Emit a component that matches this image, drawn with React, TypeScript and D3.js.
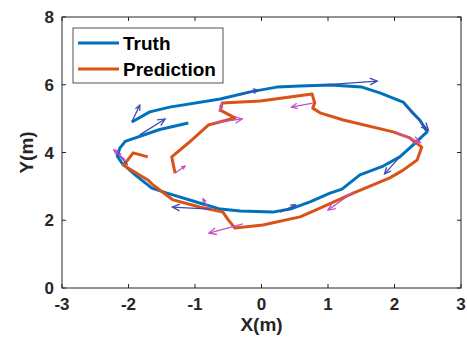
import React from "react";
import * as d3 from "d3";

// Trajectories in metres
const truthX = [-1.1, -1.53, -2.05, -2.13, -2.17, -2.1, -1.9, -1.65, -1.42, -0.93, -0.62, -0.32, 0.17, 0.43, 0.73, 1.03, 1.21, 1.48, 1.83, 2.08, 2.26, 2.49, 2.38, 2.26, 2.13, 1.78, 1.51, 1.03, 0.58, 0.23, -0.17, -0.62, -1.38, -1.68, -1.95];
const truthY = [4.87, 4.68, 4.33, 4.13, 3.9, 3.69, 3.34, 2.95, 2.8, 2.51, 2.33, 2.27, 2.24, 2.33, 2.54, 2.8, 2.92, 3.34, 3.6, 3.87, 4.19, 4.61, 4.96, 5.2, 5.49, 5.76, 5.93, 5.99, 5.96, 5.93, 5.79, 5.58, 5.34, 5.2, 4.9];

const predX = [-1.71, -1.93, -2.01, -2.08, -1.71, -1.63, -1.33, -0.93, -0.58, -0.5, -0.4, 0.02, 0.58, 0.88, 1.38, 1.93, 2.13, 2.34, 2.41, 2.23, 1.98, 1.23, 0.88, 0.77, 0.8, 0.76, 0.43, -0.02, -0.59, -0.62, -0.4, -0.8, -1.1, -1.35, -1.3];
const predY = [3.87, 3.99, 3.78, 3.63, 3.19, 3.04, 2.6, 2.39, 2.24, 2.01, 1.77, 1.86, 2.1, 2.36, 2.8, 3.25, 3.48, 3.78, 4.16, 4.43, 4.61, 4.96, 5.17, 5.31, 5.46, 5.73, 5.64, 5.52, 5.46, 5.25, 5.02, 4.81, 4.28, 3.87, 3.39];

// Heading arrows (base x, base y, u, v)
const truthArrowX = [-1.95, -1.83, -2.01, -0.77, 0.28, 2.08, 2.16, 0.88, -0.32];
const truthArrowY = [4.9, 4.52, 3.63, 2.33, 2.24, 3.87, 5.4, 5.99, 5.7];
const truthArrowU = [0.12, 0.38, -0.17, -0.57, 0.23, -0.23, 0.35, 0.86, 0.27];
const truthArrowV = [0.5, 0.47, 0.38, 0.06, 0.21, -0.5, -0.74, 0.12, 0.15];

const predArrowX = [-1.3, -2.05, -0.73, -0.64, 0.77, 2.01, 1.38, -0.28, -0.8];
const predArrowY = [3.39, 3.78, 4.87, 5.2, 5.46, 4.61, 2.83, 1.89, 2.36];
const predArrowU = [0.15, -0.17, 0.44, 0.05, -0.32, 0.38, -0.38, -0.51, -0.08];
const predArrowV = [0.21, 0.3, 0.12, 0.24, -0.12, -0.32, -0.53, -0.27, 0.27];

const xTicks = [-3, -2, -1, 0, 1, 2, 3];
const yTicks = [0, 2, 4, 6, 8];

const W = 467;
const H = 337;
const margin = { top: 17, right: 6, bottom: 49, left: 62 };
const axisColor = "#262626";
const font = "'Liberation Sans', Arial, Helvetica, sans-serif";

export default function App() {
  const x = d3.scaleLinear().domain([-3, 3]).range([margin.left, W - margin.right]);
  const y = d3.scaleLinear().domain([0, 8]).range([H - margin.bottom, margin.top]);

  const line = d3
    .line<[number, number]>()
    .x((d) => x(d[0]))
    .y((d) => y(d[1]));

  const truth = truthX.map((v, i) => [v, truthY[i]] as [number, number]);
  const pred = predX.map((v, i) => [v, predY[i]] as [number, number]);

  const arrows = (bx: number[], by: number[], u: number[], v: number[], color: string, key: string) =>
    bx.map((b, i) => {
      const x0 = x(b);
      const y0 = y(by[i]);
      const x1 = x(b + u[i]);
      const y1 = y(by[i] + v[i]);
      const len = Math.hypot(x1 - x0, y1 - y0);
      const ang = Math.atan2(y1 - y0, x1 - x0);
      const hl = Math.min(8, Math.max(4, len * 0.3));
      const a = (25 * Math.PI) / 180;
      const p1 = [x1 - hl * Math.cos(ang - a), y1 - hl * Math.sin(ang - a)];
      const p2 = [x1 - hl * Math.cos(ang + a), y1 - hl * Math.sin(ang + a)];
      return (
        <g key={key + i} stroke={color} strokeWidth={1.3} fill="none">
          <line x1={x0} y1={y0} x2={x1} y2={y1} />
          <polyline points={`${p1[0]},${p1[1]} ${x1},${y1} ${p2[0]},${p2[1]}`} />
        </g>
      );
    });

  const x0 = margin.left;
  const x1 = W - margin.right;
  const y0 = H - margin.bottom;
  const y1 = margin.top;
  const tick = 4;

  return (
    <>
      <style>{"body{margin:0}"}</style>
      <svg width={W} height={H} style={{ display: "block", background: "#fff" }} fontFamily={font}>
        <path d={line(truth) || ""} fill="none" stroke="#0072BD" strokeWidth={3} strokeLinejoin="round" />
        <path d={line(pred) || ""} fill="none" stroke="#D95319" strokeWidth={3} strokeLinejoin="round" />
        {arrows(truthArrowX, truthArrowY, truthArrowU, truthArrowV, "#3b4cae", "t")}
        {arrows(predArrowX, predArrowY, predArrowU, predArrowV, "#c84fc0", "p")}

        {/* axes box */}
        <rect x={x0} y={y1} width={x1 - x0} height={y0 - y1} fill="none" stroke={axisColor} strokeWidth={1} />
        {xTicks.map((t) => (
          <g key={"x" + t}>
            <line x1={x(t)} x2={x(t)} y1={y0} y2={y0 - tick} stroke={axisColor} />
            <line x1={x(t)} x2={x(t)} y1={y1} y2={y1 + tick} stroke={axisColor} />
            <text x={x(t)} y={y0 + 22} textAnchor="middle" fontSize={17} fontWeight="bold" fill={axisColor}>
              {t}
            </text>
          </g>
        ))}
        {yTicks.map((t) => (
          <g key={"y" + t}>
            <line x1={x0} x2={x0 + tick} y1={y(t)} y2={y(t)} stroke={axisColor} />
            <line x1={x1} x2={x1 - tick} y1={y(t)} y2={y(t)} stroke={axisColor} />
            <text x={x0 - 8} y={y(t) + 6} textAnchor="end" fontSize={17} fontWeight="bold" fill={axisColor}>
              {t}
            </text>
          </g>
        ))}
        <text x={(x0 + x1) / 2} y={H - 6} textAnchor="middle" fontSize={19} fontWeight="bold" fill={axisColor}>
          X(m)
        </text>
        <text
          transform={`translate(33,${(y0 + y1) / 2}) rotate(-90)`}
          textAnchor="middle"
          fontSize={19}
          fontWeight="bold"
          fill={axisColor}
        >
          Y(m)
        </text>

        {/* legend */}
        <g>
          <rect x={73} y={28} width={150} height={55} fill="#fff" stroke={axisColor} strokeWidth={0.8} />
          <line x1={78} x2={119} y1={43} y2={43} stroke="#0072BD" strokeWidth={3} />
          <line x1={78} x2={119} y1={69} y2={69} stroke="#D95319" strokeWidth={3} />
          <text x={123} y={50} fontSize={19} fontWeight="bold" fill="#000">
            Truth
          </text>
          <text x={123} y={76} fontSize={19} fontWeight="bold" fill="#000">
            Prediction
          </text>
        </g>
      </svg>
    </>
  );
}
